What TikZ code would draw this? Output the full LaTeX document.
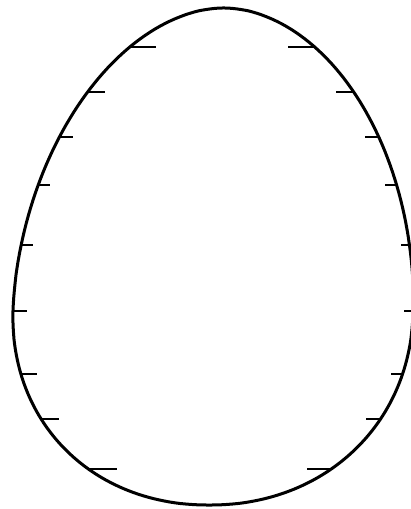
\documentclass[tikz,border=0pt]{standalone}
\usetikzlibrary{positioning}
\begin{document}
\begin{tikzpicture}[x=0.5pt, y=-0.5pt,
    shell/.style={line width=1.5pt, line join=round},
    notch/.style={line width=1.1pt}]
    \useasboundingbox (0,0) rectangle (411,509);
    % egg outline: upper and lower superellipse halves, slightly slanted
    \draw[shell] plot[domain=0:180, samples=121, variable=\t]
        ({213 + 10.6*pow(abs(sin(\t))+0.0001,1.0526) + 200*sign(cos(\t))*pow(abs(cos(\t))+0.0001,1.0526)},
         {311 - 303*pow(abs(sin(\t))+0.0001,1.0526)})
      -- plot[domain=180:360, samples=121, variable=\t]
        ({213 - 3.9*pow(abs(sin(\t))+0.0001,0.9524) + 200*sign(cos(\t))*pow(abs(cos(\t))+0.0001,0.9524)},
         {311 + 194*pow(abs(sin(\t))+0.0001,0.9524)})
      -- cycle;
    % points on the shell where the notches sit
    \coordinate (L1) at (129.7,47);
    \coordinate (L2) at (87.7,92);
    \coordinate (L3) at (59.1,137);
    \coordinate (L4) at (38.4,185);
    \coordinate (L5) at (21.3,245);
    \coordinate (L6) at (13,311);
    \coordinate (L7) at (20.7,374);
    \coordinate (L8) at (40.8,419);
    \coordinate (L9) at (87.8,469);
    \coordinate (R1) at (314.7,47);
    \coordinate (R2) at (353.7,92);
    \coordinate (R3) at (379.1,137);
    \coordinate (R4) at (396.4,185);
    \coordinate (R5) at (409.3,245);
    \coordinate (R6) at (413,311);
    \coordinate (R7) at (402.7,374);
    \coordinate (R8) at (380.8,419);
    \coordinate (R9) at (331.8,469);
    % notches, left side
    \draw[notch] (L1) -- ++(26,0);
    \draw[notch] (L2) -- ++(17,0);
    \draw[notch] (L3) -- ++(14,0);
    \draw[notch] (L4) -- ++(12,0);
    \draw[notch] (L5) -- ++(12,0);
    \draw[notch] (L6) -- ++(14,0);
    \draw[notch] (L7) -- ++(16,0);
    \draw[notch] (L8) -- ++(18,0);
    \draw[notch] (L9) -- ++(29,0);
    % notches, right side
    \draw[notch] (R1) -- ++(-27,0);
    \draw[notch] (R2) -- ++(-18,0);
    \draw[notch] (R3) -- ++(-14,0);
    \draw[notch] (R4) -- ++(-11,0);
    \draw[notch] (R5) -- ++(-8,0);
    \draw[notch] (R6) -- ++(-9,0);
    \draw[notch] (R7) -- ++(-12,0);
    \draw[notch] (R8) -- ++(-15,0);
    \draw[notch] (R9) -- ++(-25,0);
\end{tikzpicture}
\end{document}
